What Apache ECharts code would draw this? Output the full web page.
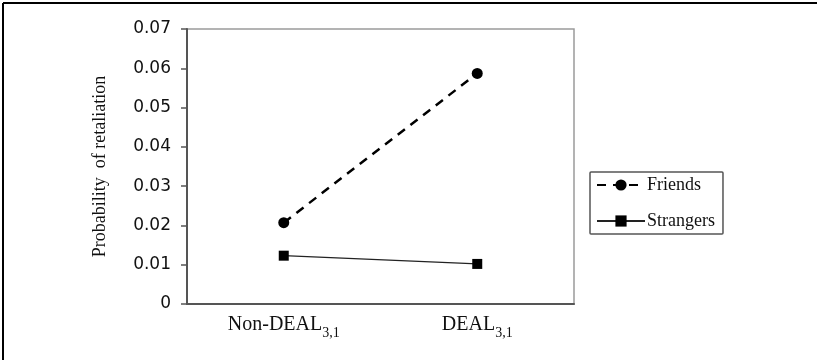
<!DOCTYPE html>
<html>
<head>
<meta charset="utf-8">
<script src="https://cdn.jsdelivr.net/npm/echarts@6/dist/echarts.min.js"></script>
<style>
  html, body { margin: 0; padding: 0; background: #fff; }
  #chart { width: 817px; height: 360px; }
</style>
</head>
<body>
<div id="chart"></div>
<script>
// data
var categories = ['Non-DEAL', 'DEAL'];
var friends = [0.0207, 0.0587];
var strangers = [0.0123, 0.0102];
var yTicks = [0, 0.01, 0.02, 0.03, 0.04, 0.05, 0.06, 0.07];

var serif = '"Liberation Serif", "Times New Roman", serif';
var myChart = echarts.init(document.getElementById('chart'));

myChart.setOption({
  backgroundColor: '#fff',
  animation: false,
  graphic: [
    // outer frame, only top and left visible
    { type: 'line', shape: { x1: 3, y1: 3, x2: 817, y2: 3 }, style: { stroke: '#000', lineWidth: 2 } },
    { type: 'line', shape: { x1: 3, y1: 3, x2: 3, y2: 360 }, style: { stroke: '#000', lineWidth: 2 } }
  ],
  grid: {
    left: 187,
    right: 243,
    top: 29,
    bottom: 56,
    show: true,
    borderColor: '#9a9a9a',
    borderWidth: 1.5
  },
  legend: {
    orient: 'vertical',
    left: 590,
    top: 172,
    padding: [4, 8, 4, 6],
    borderColor: '#555',
    borderWidth: 1.5,
    borderRadius: 1,
    itemWidth: 48,
    itemHeight: 14,
    itemGap: 18,
    textStyle: { fontFamily: serif, fontSize: 18, color: '#111', padding: [0, 0, 0, -3] },
    data: ['Friends', 'Strangers']
  },
  xAxis: {
    type: 'category',
    data: categories,
    boundaryGap: true,
    axisLine: { lineStyle: { color: '#555', width: 2 } },
    axisTick: { show: false },
    axisLabel: {
      margin: 11,
      formatter: function (v) {
        return '{a|' + v + '}{b|3,1}';
      },
      rich: {
        a: { fontFamily: serif, fontSize: 20, color: '#111', verticalAlign: 'top' },
        b: { fontFamily: serif, fontSize: 14, color: '#111', verticalAlign: 'top', padding: [11, 0, 0, 0] }
      }
    }
  },
  yAxis: {
    type: 'value',
    min: yTicks[0],
    max: yTicks[yTicks.length - 1],
    interval: 0.01,
    name: 'Probability  of retaliation',
    nameLocation: 'middle',
    nameGap: 78,
    nameTextStyle: { fontFamily: serif, fontSize: 18, color: '#111' },
    axisLine: { show: true, lineStyle: { color: '#555', width: 2 } },
    axisTick: { show: true, inside: false, length: 6, lineStyle: { color: '#555', width: 1.5 } },
    splitLine: { show: false },
    axisLabel: {
      margin: 16,
      fontFamily: '"DejaVu Sans", Verdana, sans-serif',
      fontSize: 17,
      color: '#111',
      formatter: function (v) {
        return v === 0 ? '0' : v.toFixed(2);
      }
    }
  },
  series: [
    {
      name: 'Friends',
      type: 'line',
      data: friends,
      symbol: 'circle',
      symbolSize: 11,
      itemStyle: { color: '#000' },
      lineStyle: { color: '#000', width: 2.5, type: [9, 7] }
    },
    {
      name: 'Strangers',
      type: 'line',
      data: strangers,
      symbol: 'rect',
      symbolSize: 10,
      itemStyle: { color: '#000' },
      lineStyle: { color: '#222', width: 1.3 }
    }
  ]
});
</script>
</body>
</html>
